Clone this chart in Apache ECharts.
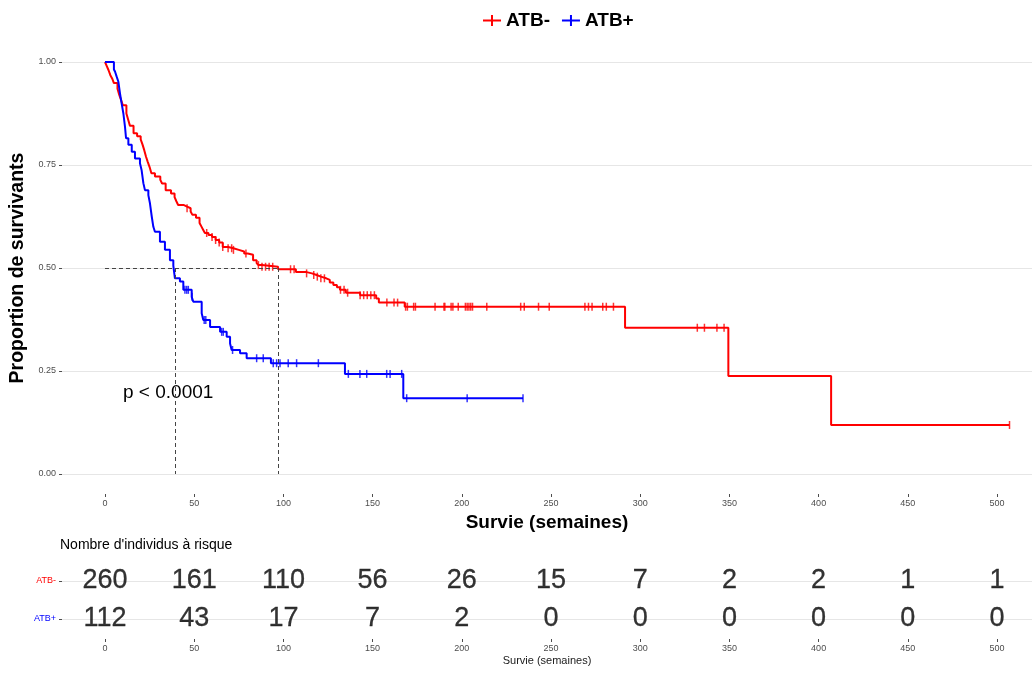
<!DOCTYPE html>
<html>
<head>
<meta charset="utf-8">
<script src="https://cdn.jsdelivr.net/npm/echarts@6/dist/echarts.min.js"></script>
<style>html,body{margin:0;padding:0;background:#fff;}#c{width:1032px;height:673px;}</style>
</head>
<body>
<div id="c"></div>
<script>
// ---- data ----
const xTicks = [0, 50, 100, 150, 200, 250, 300, 350, 400, 450, 500];
const groups = ['ATB-', 'ATB+'];
const atbMinusTimes = [0,1,2,3,4,5,7,8,9,10,12,13,14,16,18,20,21,22,23,24,25,26,28,31,32,34,37,39,40,41,44,46,48,49,51,53,54,55,56,58,60,62,64,66,69,72,75,78,80,83,85,86,88,97,107,113,116,118.6,121,124,126,128,130,131.7,135,143,152,153.5,168,291.5,349.4,407];
const atbMinusSurv = [1,0.99,0.98,0.968,0.96,0.949,0.935,0.92,0.908,0.895,0.875,0.86,0.845,0.827,0.82,0.812,0.8,0.786,0.77,0.757,0.745,0.73,0.722,0.714,0.705,0.689,0.681,0.672,0.662,0.653,0.649,0.645,0.637,0.629,0.622,0.609,0.601,0.593,0.585,0.58,0.575,0.568,0.562,0.551,0.548,0.544,0.54,0.535,0.532,0.519,0.512,0.507,0.503,0.497,0.49,0.487,0.483,0.479,0.475,0.471,0.465,0.459,0.453,0.447,0.44,0.434,0.426,0.416,0.406,0.355,0.238,0.119];
const atbMinusCensor = [46,57,60,62,64,66,69,71,72,79,86,88,90,92,94,104,106,113,117,119,121,123,132,134,136,143,145,147,149,151,158,162,164,168.5,169.5,173,174,185,190,190.5,194,195,198,202,203,204,205,206,214,233,235,243,249,269,271,273,279,281,285,332,336,343,347,507];
const atbPlusTimes = [0,5,5.6,6.5,7.5,8.4,9.3,10.3,11.2,11.8,13.1,15,16.8,19.6,20.5,21.5,22.4,24.3,25.2,26.2,27.1,28,30.8,33.6,36.4,38.3,39.2,42,43.9,48.6,49.5,54.2,55.1,58.9,64.5,68.2,70.1,71,75.7,79.4,93,134.5,167.2];
const atbPlusSurv = [1,0.982,0.977,0.965,0.952,0.924,0.9,0.875,0.843,0.815,0.799,0.782,0.766,0.754,0.738,0.706,0.689,0.677,0.657,0.625,0.6,0.588,0.564,0.544,0.519,0.506,0.475,0.467,0.447,0.43,0.418,0.39,0.374,0.357,0.345,0.333,0.317,0.301,0.293,0.281,0.269,0.243,0.184];
const atbPlusCensor = [44.8,45.8,46.7,48.8,55.6,56.5,65.4,66.3,71.5,85,88.7,94.3,96.2,98.1,102.7,107.4,119.6,136.4,142.9,146.7,157.9,159.8,166.3,169.1,203,234.3];
const medians = [39.2, 97];
const riskTimes = [0, 50, 100, 150, 200, 250, 300, 350, 400, 450, 500];
const riskMinus = [260, 161, 110, 56, 26, 15, 7, 2, 2, 1, 1];
const riskPlus = [112, 43, 17, 7, 2, 0, 0, 0, 0, 0, 0];
const pText = 'p < 0.0001';

// ---- helpers ----
const FONT = 'Liberation Sans, Arial, sans-serif';
const RED = '#ff0000', BLUE = '#0000ff';
function stepAt(times, surv, t) {
  let v = surv[0];
  for (let i = 0; i < times.length; i++) { if (times[i] <= t) v = surv[i]; }
  return v;
}
function lineData(times, surv, censor) {
  const d = times.map((t, i) => [t, surv[i]]);
  const last = Math.max(...censor);
  if (last > times[times.length - 1]) d.push([last, surv[surv.length - 1]]);
  return d;
}
function censorData(times, surv, censor) {
  return censor.map(t => [t, stepAt(times, surv, t)]);
}
const plusIcon = 'path://M0,5L18,5L18,7L0,7Z M8,0.5L10,0.5L10,11.5L8,11.5Z';

const maxMed = Math.max(...medians);
const medLines = [[{coord: [0, 0.5]}, {coord: [maxMed, 0.5]}]].concat(
  medians.map(m => [{coord: [m, 0.5]}, {coord: [m, 0]}]));

const chart = echarts.init(document.getElementById('c'), null, {renderer: 'canvas'});
const axisLabelStyle = {color: '#4d4d4d', fontSize: 9, fontFamily: FONT};
const riskLabel = {show: true, position: [0, 0], align: 'center', verticalAlign: 'middle',
  formatter: p => String(p.value[2]),
  fontSize: 27, color: '#000', fontFamily: FONT, textBorderColor: '#000', textBorderWidth: 0.3};
chart.setOption({
  animation: false,
  textStyle: {fontFamily: FONT},
  legend: {
    top: 6, left: 478,
    data: [{name: 'ATB-', icon: plusIcon}, {name: 'ATB+', icon: plusIcon}],
    itemWidth: 18, itemHeight: 12, itemGap: 12,
    textStyle: {fontSize: 19, fontWeight: 'bold', color: '#000', fontFamily: FONT}
  },
  grid: [
    {left: 62, right: 0, top: 62, bottom: 199, outerBoundsMode: 'none', containLabel: false},
    {left: 62, right: 0, top: 581, bottom: 54, outerBoundsMode: 'none', containLabel: false}
  ],
  xAxis: [
    {
      type: 'value', gridIndex: 0, min: -24.1, max: 519.6, offset: 20,
      axisLine: {show: false, onZero: false},
      axisTick: {show: true, length: 3, customValues: xTicks, lineStyle: {color: '#4d4d4d'}},
      axisLabel: Object.assign({customValues: xTicks, margin: 5}, axisLabelStyle),
      splitLine: {show: false},
      name: 'Survie (semaines)', nameLocation: 'middle', nameGap: 16,
      nameTextStyle: {fontSize: 19, fontWeight: 'bold', color: '#000', fontFamily: FONT}
    },
    {
      type: 'value', gridIndex: 1, min: -24.1, max: 519.6, offset: 20,
      axisLine: {show: false, onZero: false},
      axisTick: {show: true, length: 3, customValues: xTicks, lineStyle: {color: '#4d4d4d'}},
      axisLabel: Object.assign({customValues: xTicks, margin: 5}, axisLabelStyle),
      splitLine: {show: false},
      name: 'Survie (semaines)', nameLocation: 'middle', nameGap: 16,
      nameTextStyle: {fontSize: 11, color: '#1a1a1a', fontFamily: FONT}
    }
  ],
  yAxis: [
    {
      type: 'value', gridIndex: 0, min: 0, max: 1, interval: 0.25,
      axisLine: {show: false, onZero: false},
      axisTick: {show: true, length: 3, lineStyle: {color: '#4d4d4d'}},
      axisLabel: Object.assign({margin: 6, formatter: v => v.toFixed(2)}, axisLabelStyle),
      splitLine: {show: true, lineStyle: {color: '#e6e6e6', width: 1.2}},
      name: 'Proportion de survivants', nameLocation: 'middle', nameGap: 32,
      nameTextStyle: {fontSize: 19.5, fontWeight: 'bold', color: '#000', fontFamily: FONT}
    },
    {
      type: 'category', gridIndex: 1, data: groups, inverse: true, boundaryGap: false,
      axisLine: {show: false, onZero: false},
      axisTick: {show: true, length: 3, alignWithLabel: true, lineStyle: {color: '#4d4d4d'}},
      axisLabel: {margin: 6, fontSize: 9, fontFamily: FONT,
        color: v => (v === 'ATB-' ? RED : BLUE)},
      splitLine: {show: true, lineStyle: {color: '#e6e6e6', width: 1.2}}
    }
  ],
  graphic: [
    {type: 'text', left: 123, top: 383, style: {text: pText, fill: '#000', font: '19px ' + FONT}},
    {type: 'text', left: 60, top: 538, style: {text: "Nombre d'individus à risque", fill: '#000', font: '14px ' + FONT}}
  ],
  series: [
    {
      name: 'ATB-', type: 'line', xAxisIndex: 0, yAxisIndex: 0, step: 'end', clip: false,
      showSymbol: false, color: RED, lineStyle: {width: 2, color: RED},
      data: lineData(atbMinusTimes, atbMinusSurv, atbMinusCensor)
    },
    {
      name: 'ATB+', type: 'line', xAxisIndex: 0, yAxisIndex: 0, step: 'end', clip: false,
      showSymbol: false, color: BLUE, lineStyle: {width: 2, color: BLUE},
      data: lineData(atbPlusTimes, atbPlusSurv, atbPlusCensor)
    },
    {
      name: 'ATB-', type: 'scatter', xAxisIndex: 0, yAxisIndex: 0, clip: false,
      symbol: 'rect', symbolSize: [1.5, 8], itemStyle: {color: RED},
      data: censorData(atbMinusTimes, atbMinusSurv, atbMinusCensor)
    },
    {
      name: 'ATB+', type: 'scatter', xAxisIndex: 0, yAxisIndex: 0, clip: false,
      symbol: 'rect', symbolSize: [1.5, 8], itemStyle: {color: BLUE},
      data: censorData(atbPlusTimes, atbPlusSurv, atbPlusCensor)
    },
    {
      type: 'line', xAxisIndex: 0, yAxisIndex: 0, data: [], silent: true,
      markLine: {symbol: 'none', silent: true, label: {show: false},
        lineStyle: {type: [4, 3], color: '#444', width: 1}, data: medLines}
    },
    {
      type: 'scatter', xAxisIndex: 1, yAxisIndex: 1, symbolSize: 0, clip: false, silent: true,
      itemStyle: {color: '#000'},
      data: riskTimes.map((t, i) => [t, 'ATB-', riskMinus[i]]),
      label: riskLabel
    },
    {
      type: 'scatter', xAxisIndex: 1, yAxisIndex: 1, symbolSize: 0, clip: false, silent: true,
      itemStyle: {color: '#000'},
      data: riskTimes.map((t, i) => [t, 'ATB+', riskPlus[i]]),
      label: riskLabel
    }
  ]
});
</script>
</body>
</html>
